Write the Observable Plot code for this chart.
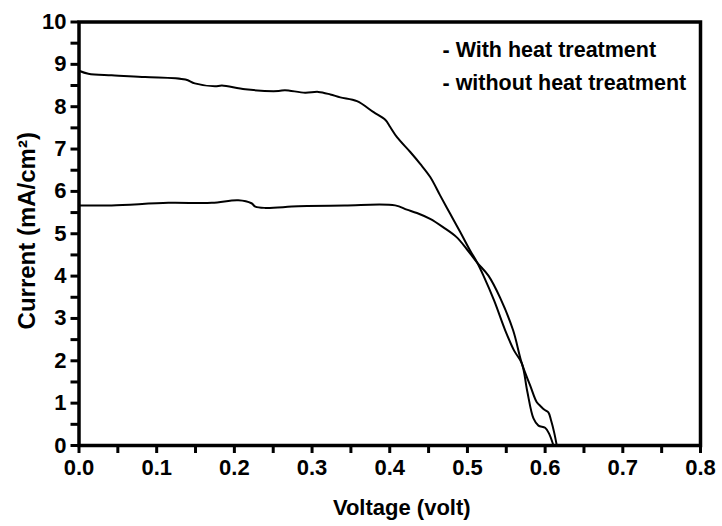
<!DOCTYPE html>
<html><head><meta charset="utf-8">
<script src="https://cdn.jsdelivr.net/npm/d3@7"></script>
<script src="https://cdn.jsdelivr.net/npm/@observablehq/plot@0.6"></script>
<style>body{margin:0;background:#fff} svg{display:block;font-family:'Liberation Sans', Arial, sans-serif;color:#000;background:#fff}</style>
</head><body><div id="chart"></div>
<script>
// Series: with heat treatment (upper curve)
const withHeatV = [0,0.012,0.042,0.085,0.137,0.149,0.175,0.184,0.214,0.257,0.265,0.291,0.308,0.3235,0.3363,0.3578,0.3792,0.3942,0.4006,0.4093,0.4264,0.4392,0.4521,0.465,0.4778,0.4907,0.5036,0.5125,0.5206,0.5344,0.5486,0.5601,0.570,0.5768,0.585,0.5914,0.600,0.6051,0.6107];
const withHeatI = [8.85,8.78,8.74,8.70,8.64,8.55,8.48,8.50,8.41,8.37,8.39,8.33,8.35,8.29,8.22,8.13,7.87,7.69,7.52,7.28,6.93,6.65,6.34,5.90,5.47,5.04,4.60,4.32,4.01,3.42,2.72,2.24,1.94,1.30,0.64,0.47,0.42,0.28,0];
// Series: without heat treatment (lower curve)
const withoutHeatV = [0,0.042,0.115,0.171,0.205,0.222,0.227,0.240,0.282,0.342,0.407,0.422,0.435,0.452,0.469,0.486,0.499,0.5125,0.527,0.542,0.5588,0.570,0.5807,0.5893,0.5936,0.5987,0.6042,0.6077,0.6116,0.615];
const withoutHeatI = [5.67,5.67,5.73,5.73,5.79,5.72,5.64,5.61,5.65,5.67,5.67,5.57,5.49,5.35,5.15,4.92,4.64,4.32,4.01,3.49,2.72,1.94,1.42,1.02,0.94,0.85,0.78,0.59,0.31,0];

const seriesNames = ["- With heat treatment", "- without heat treatment"];
const xTicks = [0,0.05,0.1,0.15,0.2,0.25,0.3,0.35,0.4,0.45,0.5,0.55,0.6,0.65,0.7,0.75,0.8];
const xTickLabels = ["0.0","","0.1","","0.2","","0.3","","0.4","","0.5","","0.6","","0.7","","0.8"];
const yTicks = [0,0.5,1,1.5,2,2.5,3,3.5,4,4.5,5,5.5,6,6.5,7,7.5,8,8.5,9,9.5,10];
const yTickLabels = ["0","","1","","2","","3","","4","","5","","6","","7","","8","","9","","10"];
const xTitle = "Voltage (volt)";
const yTitle = "Current (mA/cm²)";

const rows = [
  ...withHeatV.map((v, i) => ({series: seriesNames[0], V: v, I: withHeatI[i]})),
  ...withoutHeatV.map((v, i) => ({series: seriesNames[1], V: v, I: withoutHeatI[i]}))
];

const chart = Plot.plot({
  width: 722, height: 526,
  marginLeft: 78.5, marginRight: 22, marginTop: 21.5, marginBottom: 81,
  x: {domain: [0, 0.8]},
  y: {domain: [0, 10]},
  marks: [
    Plot.axisX(xTicks, {tickSize: 8, tickPadding: 6, tickFormat: (d, i) => xTickLabels[i], strokeWidth: 3, label: null, fontSize: 22, fontWeight: "bold"}),
    Plot.axisY(yTicks, {tickSize: 8, tickPadding: 4.5, tickFormat: (d, i) => yTickLabels[i], strokeWidth: 3, label: null, fontSize: 22, fontWeight: "bold"}),
    Plot.frame({strokeWidth: 3.5}),
    Plot.line(rows, {x: "V", y: "I", z: "series", stroke: "#000", strokeWidth: 2, curve: "catmull-rom"}),
    Plot.text([xTitle], {frameAnchor: "bottom", textAnchor: "middle", lineAnchor: "middle", dx: 12, dy: 62, fontSize: 22, fontWeight: "bold"}),
    Plot.text([yTitle], {frameAnchor: "left", textAnchor: "middle", lineAnchor: "middle", rotate: -90, dx: -51.5, dy: -3, fontSize: 24, fontWeight: "bold"}),
    Plot.text([seriesNames[0]], {frameAnchor: "top-left", textAnchor: "start", lineAnchor: "middle", dx: 363.5, dy: 28.5, fontSize: 21.5, fontWeight: "bold"}),
    Plot.text([seriesNames[1]], {frameAnchor: "top-left", textAnchor: "start", lineAnchor: "middle", dx: 363.5, dy: 61.5, fontSize: 21.5, fontWeight: "bold"})
  ]
});
document.getElementById("chart").appendChild(chart);
</script>
</body></html>
